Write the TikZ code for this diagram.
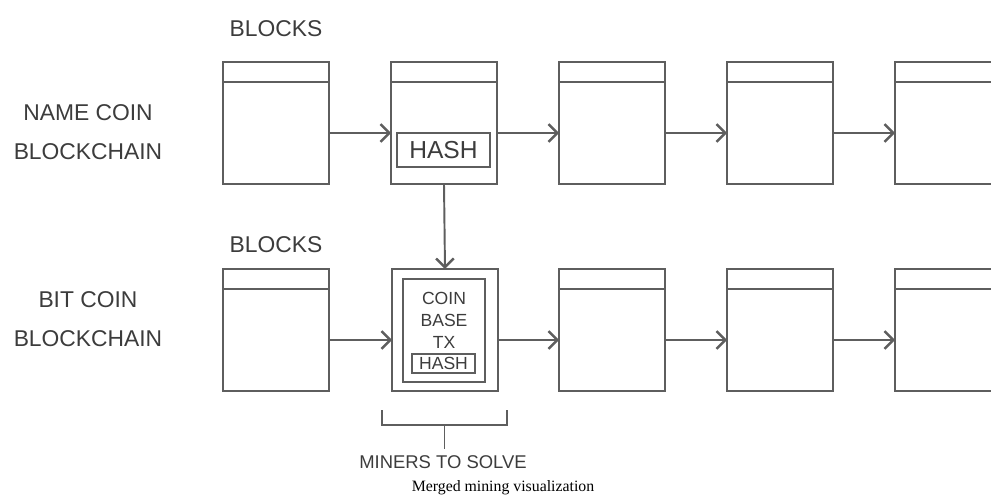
\documentclass[tikz,border=0pt]{standalone}
\usepackage{fontspec}
\setmainfont{Liberation Sans}
\newfontfamily\capfont{Liberation Serif}
\usetikzlibrary{arrows.meta,calc,positioning}
\definecolor{linegray}{HTML}{5E5E5E}
\definecolor{textgray}{HTML}{3C3C3C}
\tikzset{
    block/.style={
        draw=linegray, line width=1.1pt,
        minimum width=2.12cm, minimum height=2.44cm,
        inner sep=0pt, outer sep=0pt
    },
    header/.style={
        block,
        path picture={
            \draw [linegray, line width=1.1pt]
            ([yshift=-0.4cm]path picture bounding box.north west) --
            ([yshift=-0.4cm]path picture bounding box.north east);
        }
    },
    hashbox/.style={
        draw=linegray, line width=1.1pt, inner sep=0pt, outer sep=0pt,
        text=textgray
    },
    label/.style={
        text=textgray, align=center,
        font=\fontsize{13}{22}\selectfont
    },
    link/.style={
        draw=linegray, line width=1.1pt,
        -{Straight Barb[length=5pt, width=10pt, line width=1.4pt]}
    }
}

\begin{document}
\begin{tikzpicture}[x=0.02cm, y=-0.02cm]
    \useasboundingbox (0,0) rectangle (991,497);
    \clip (0,0) rectangle (991,497);
    % labels
    \node [label] (blocksA) at (276,29) {BLOCKS};
    \node [label] (blocksB) at (276,245) {BLOCKS};
    \node [label] (namecoin) at (88,132) {NAME COIN\\BLOCKCHAIN};
    \node [label] (bitcoin) at (88,319) {BIT COIN\\BLOCKCHAIN};
    % name coin chain
    \foreach \i/\x in {1/276,2/444,3/612,4/780,5/948}
        \node [header] (nc\i) at (\x,123) {};
    \node [hashbox, minimum width=1.86cm, minimum height=0.68cm,
           font=\fontsize{14}{16}\selectfont] (nchash) at (443.5,150) {HASH};
    % bit coin chain
    \foreach \i/\x in {1/276,3/612,4/780,5/948}
        \node [header] (bc\i) at (\x,330) {};
    \node [block] (bc2) at (445,330) {};
    \node [hashbox, minimum width=1.64cm, minimum height=2.06cm] (cbtx) at (444,330.5) {};
    \node [text=textgray, align=center, font=\fontsize{10}{12.5}\selectfont,
           below=0.15cm of cbtx.north] (cbtxt) {COIN\\BASE\\TX};
    \node [hashbox, minimum width=1.26cm, minimum height=0.38cm,
           font=\fontsize{10}{11}\selectfont] (bchash) at (443.5,363.5) {HASH};
    % links
    \foreach \a/\b in {1/2,2/3,3/4,4/5} {
        \draw [link] ([yshift=-0.2cm]nc\a.east) -- ([yshift=-0.2cm]nc\b.west);
        \draw [link] ([yshift=-0.2cm]bc\a.east) -- ([yshift=-0.2cm]bc\b.west);
    }
    \draw [link] (nc2.south) -- (bc2.north);
    % bracket
    \coordinate (brL) at (382,410);
    \coordinate (brR) at (507,410);
    \coordinate (brM) at (444.5,425);
    \draw [linegray, line width=1.1pt] (brL) |- (brM) -| (brR);
    \node [label, font=\fontsize{10.5}{12}\selectfont] (miners) at (443,462) {MINERS TO SOLVE};
    \draw [linegray, line width=1.1pt] (brM) -- (brM |- miners.north);
    % caption
    \node [font=\capfont\fontsize{9}{10}\selectfont] (caption) at (503,488) {Merged mining visualization};
\end{tikzpicture}
\end{document}
